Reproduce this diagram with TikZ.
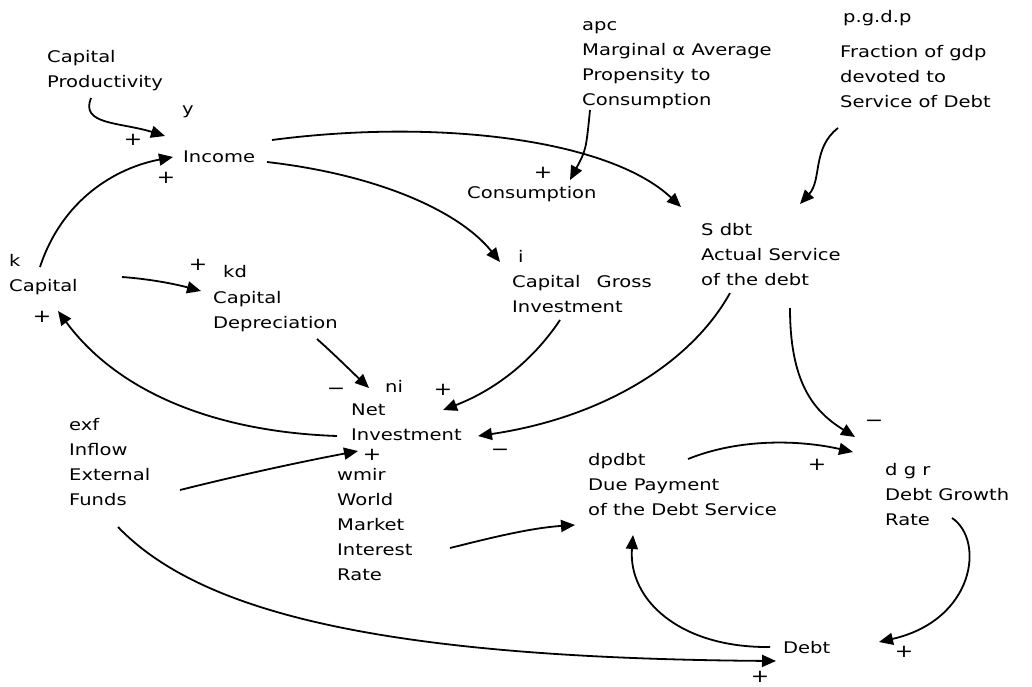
\documentclass[tikz,border=0pt]{standalone}
\usepackage{fontspec}
\setmainfont{DejaVu Sans}[FakeStretch=1.22]
\usetikzlibrary{arrows.meta}
\begin{document}
\begin{tikzpicture}[x=1pt,y=-1pt,
  lbl/.style={anchor=base west, inner sep=0pt, align=left, font=\fontsize{16}{25}\selectfont},
  sgn/.style={inner sep=0pt, font=\fontsize{18}{18}\selectfont},
  link/.style={line width=1.8pt, -{Triangle[length=14pt,width=12pt]}}]
\useasboundingbox[fill=white] (0,0) rectangle (1032,687);

% variables (positions are the baseline of the last line)
\node[lbl] (cprod) at (47,88) {Capital\\Productivity};
\node[lbl] (y) at (182,115) {y};
\node[lbl] (inc) at (183,163) {Income};
\node[lbl] (apc) at (582,106) {apc\\Marginal α Average\\Propensity to\\Consumption};
\node[lbl] (cons) at (467,198) {Consumption};
\node[lbl] (pgdp) at (843,23) {p.g.d.p};
\node[lbl] (frac) at (840,108) {Fraction of gdp\\devoted to\\Service of Debt};
\node[lbl] (sdbt) at (701,285) {S dbt\\Actual Service\\of the debt};
\node[lbl] (cap) at (9,291) {k\\Capital};
\node[lbl] (kd) at (223,277) {kd};
\node[lbl] (capdep) at (213,328) {Capital\\Depreciation};
\node[lbl] (gi) at (518,262) {i};
\node[lbl] (cgi) at (512,312) {Capital\quad Gross\\Investment};
\node[lbl] (ni) at (385,392) {ni};
\node[lbl] (netinv) at (351,440) {Net\\Investment};
\node[lbl] (exf) at (69,505) {exf\\Inflow\\External\\Funds};
\node[lbl] (wmir) at (337,580) {wmir\\World\\Market\\Interest\\Rate};
\node[lbl] (dpdbt) at (588,515) {dpdbt\\Due Payment\\of the Debt Service};
\node[lbl] (dgr) at (885,525) {d g r\\Debt Growth\\Rate};
\node[lbl] (debt) at (783,653) {Debt};

% polarity signs
\node[sgn] (s1) at (133,140) {+};
\node[sgn] (s2) at (166,178) {+};
\node[sgn] (s3) at (543,173) {+};
\node[sgn] (s4) at (198,265) {+};
\node[sgn] (s5) at (42,317) {+};
\node[sgn] (s6) at (336,391) {−};
\node[sgn] (s7) at (443,390) {+};
\node[sgn] (s8) at (500,452) {−};
\node[sgn] (s9) at (372,455) {+};
\node[sgn] (s10) at (817,465) {+};
\node[sgn] (s11) at (874,423) {−};
\node[sgn] (s12) at (904,652) {+};
\node[sgn] (s13) at (760,677) {+};

% connector end points
\coordinate (cp-o) at (91,98);
\coordinate (inc-a) at (165,136);
\coordinate (cap-o1) at (40,267);
\coordinate (inc-b) at (173,157);
\coordinate (inc-o1) at (272,140);
\coordinate (sd-a) at (681,207);
\coordinate (inc-o2) at (267,162);
\coordinate (gi-a) at (500,262);
\coordinate (apc-o) at (590,110);
\coordinate (cons-a) at (570,180);
\coordinate (pg-o) at (838,128);
\coordinate (sd-b) at (800,204);
\coordinate (cap-o2) at (122,277);
\coordinate (kd-a) at (201,291);
\coordinate (kd-o) at (317,339);
\coordinate (ni-a) at (369,388);
\coordinate (ni-o) at (337,436);
\coordinate (cap-a) at (58,311);
\coordinate (gi-o) at (560,320);
\coordinate (ni-b) at (443,410);
\coordinate (sd-o1) at (730,293);
\coordinate (ni-c) at (478,436);
\coordinate (sd-o2) at (790,308);
\coordinate (dgr-a) at (855,437);
\coordinate (exf-o1) at (180,490);
\coordinate (ni-d) at (358,451);
\coordinate (exf-o2) at (118,527);
\coordinate (debt-a) at (776,661);
\coordinate (wm-o) at (450,548);
\coordinate (dp-a) at (575,525);
\coordinate (dp-o) at (688,459);
\coordinate (dgr-b) at (853,452);
\coordinate (dgr-o) at (952,518);
\coordinate (debt-b) at (879,642);
\coordinate (debt-o) at (770,647);
\coordinate (dp-b) at (633,535);

% connectors
\draw[link] (cp-o) .. controls (80,125) and (120,122) .. (inc-a);
\draw[link] (cap-o1) .. controls (62,200) and (115,168) .. (inc-b);
\draw[link] (inc-o1) .. controls (440,118) and (610,140) .. (sd-a);
\draw[link] (inc-o2) .. controls (380,175) and (460,212) .. (gi-a);
\draw[link] (apc-o) .. controls (586,150) .. (cons-a);
\draw[link] (pg-o) .. controls (812,148) and (822,180) .. (sd-b);
\draw[link] (cap-o2) .. controls (150,279) and (175,284) .. (kd-a);
\draw[link] (kd-o) .. controls (335,355) and (352,372) .. (ni-a);
\draw[link] (ni-o) .. controls (220,432) and (120,395) .. (cap-a);
\draw[link] (gi-o) .. controls (530,365) and (490,392) .. (ni-b);
\draw[link] (sd-o1) .. controls (690,365) and (600,418) .. (ni-c);
\draw[link] (sd-o2) .. controls (790,385) and (815,412) .. (dgr-a);
\draw[link] (exf-o1) .. controls (240,475) and (300,462) .. (ni-d);
\draw[link] (exf-o2) .. controls (200,612) and (380,658) .. (debt-a);
\draw[link] (wm-o) .. controls (490,538) and (530,528) .. (dp-a);
\draw[link] (dp-o) .. controls (740,438) and (800,440) .. (dgr-b);
\draw[link] (dgr-o) .. controls (985,540) and (975,620) .. (debt-b);
\draw[link] (debt-o) .. controls (680,648) and (628,600) .. (dp-b);
\end{tikzpicture}
\end{document}
